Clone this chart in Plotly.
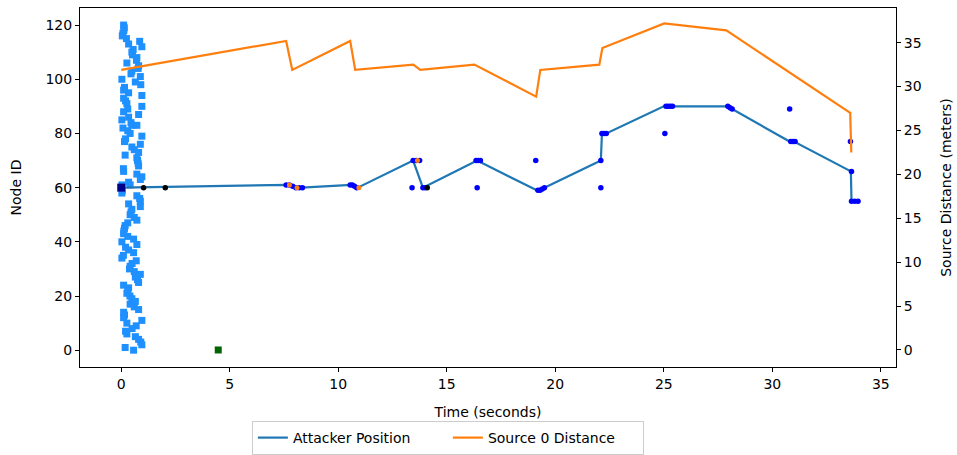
import plotly.graph_objects as go

# Node first-hearing times (seconds) by node ID
node_ids = [120, 119, 118, 117, 116, 115, 114, 113, 112, 111, 110, 109, 108, 107, 106, 105, 104, 103,
            102, 101, 100, 99, 98, 97, 96, 95, 94, 93, 92, 91, 90, 89, 88, 87, 86, 85, 84, 83, 83,
            82, 81, 80, 79, 78, 77, 76, 75, 74, 73, 72, 71, 70, 69, 68, 67, 66, 65, 64, 63, 62, 61,
            61, 59, 58, 57, 56, 55, 54, 53, 52, 51, 50, 49, 48, 47, 46, 45, 44, 43, 42, 41, 40, 39,
            38, 37, 36, 35, 34, 33, 32, 31, 30, 29, 28, 27, 26, 25, 24, 23, 22, 21, 20, 19, 18, 17,
            16, 15, 14, 13, 12, 11, 10, 9, 8, 7, 6, 5, 4, 3, 2, 1, 0]
node_times = [0.11, 0.14, 0.12, 0.08, 0.05, 0.24, 0.85, 0.34, 0.95, 0.55, 0.49, 0.52, 0.72, 0.7, 0.26, 0.8,
              0.78, 0.49, 0.45, 0.88, 0.03, 0.65, 0.9, 0.15, 0.11, 0.34, 0.95, 0.11, 0.2, 0.26, 0.95,
              0.3, 0.11, 0.8, 0.34, 0.03, 0.45, 0.49, 0.72, 0.08, 0.3, 0.41, 0.95, 0.2, 0.15, 0.88, 0.49,
              0.6, 0.8, 0.18, 0.72, 0.75, 0.78, 0.8, 0.1, 0.11, 0.72, 0.95, 0.88, 0.34, 0.41, 0.03, 0.05,
              0.03, 0.72, 0.85, 0.88, 0.34, 0.88, 0.49, 0.45, 0.41, 0.6, 0.72, 0.3, 0.18, 0.15, 0.12,
              0.11, 0.3, 0.57, 0.03, 0.72, 0.2, 0.34, 0.57, 0.1, 0.03, 0.69, 0.5, 0.41, 0.38, 0.6, 0.88,
              0.65, 0.75, 0.8, 0.11, 0.34, 0.3, 0.26, 0.4, 0.49, 0.65, 0.41, 0.6, 0.8, 0.11, 0.15, 0.11,
              0.95, 0.26, 0.69, 0.5, 0.2, 0.26, 0.65, 0.8, 0.9, 0.95, 0.18, 0.57]

# Attacker position (node ID) over time
att_t = [0.0, 7.65, 7.85, 8.3, 10.6, 10.9, 13.45, 13.9, 16.4, 19.15, 19.5, 22.1, 22.15, 22.35,
         25.0, 25.4, 27.95, 28.15, 30.8, 31.0, 33.62, 33.65, 34.0]
att_node = [60, 61, 60.5, 60, 61, 60, 70, 60, 70, 59, 60, 70, 80, 80,
            90, 90, 90, 89, 77, 77, 66, 55, 55]

# Distance between attacker and source 0 (meters)
dist_t = [0.0, 7.6, 7.88, 10.55, 10.78, 13.46, 13.78, 16.27, 19.12, 19.31, 22.03, 22.17,
          25.02, 27.88, 33.59, 33.64]
dist_m = [31.9, 35.2, 31.9, 35.2, 31.9, 32.5, 31.9, 32.5, 28.85, 31.9, 32.5, 34.4,
          37.2, 36.4, 27.0, 22.5]

# Messages received by the attacker
recv_t = [7.6, 7.75, 7.9, 8.05, 8.2, 8.35, 10.55, 10.65, 10.75, 10.85, 13.4, 13.45, 13.6, 13.75,
          13.9, 14.0, 16.35, 16.45, 16.55, 16.4, 19.1, 19.2, 19.3, 19.4, 19.5, 22.1, 22.1, 22.15,
          22.25, 22.35, 25.05, 25.1, 25.2, 25.3, 25.4, 27.95, 28.05, 28.15, 30.8, 30.85, 30.95,
          31.05, 33.6, 33.65, 33.65, 33.8, 33.95]
recv_node = [61, 61, 60.5, 60, 60, 60, 61, 61, 60.5, 60, 60, 70, 70, 70,
             60, 60, 70, 70, 70, 60, 70, 59, 59, 59.5, 60, 70, 60, 80,
             80, 80, 80, 90, 90, 90, 90, 90, 89.5, 89, 89, 77, 77,
             77, 77, 66, 55, 55, 55]

# Messages overheard from other sources
other_t = [1.03, 2.03, 14.1]
other_node = [60, 60, 60]

# Moves triggered by a fresh message
move_t = [7.75, 8.1, 10.95, 13.65]
move_node = [61, 60, 60, 70]

sink_t, sink_node = [0.0], [60]
source_t, source_dist = [4.47], [0]

fig = go.Figure()

fig.add_trace(go.Scatter(x=node_times, y=node_ids, mode="markers", showlegend=False,
                         marker=dict(symbol="square", size=7, color="#1e90ff")))
fig.add_trace(go.Scatter(x=dist_t, y=dist_m, mode="lines", name="Source 0 Distance",
                         yaxis="y2", line=dict(color="#ff7f0e", width=2.2)))
fig.add_trace(go.Scatter(x=att_t, y=att_node, mode="lines", name="Attacker Position",
                         line=dict(color="#1f77b4", width=2.2)))
fig.add_trace(go.Scatter(x=recv_t, y=recv_node, mode="markers", showlegend=False,
                         marker=dict(size=5.5, color="#0000ff")))
fig.add_trace(go.Scatter(x=other_t, y=other_node, mode="markers", showlegend=False,
                         marker=dict(size=5.5, color="black")))
fig.add_trace(go.Scatter(x=move_t, y=move_node, mode="markers", showlegend=False,
                         marker=dict(size=5, color="#ff7f0e")))
fig.add_trace(go.Scatter(x=sink_t, y=sink_node, mode="markers", showlegend=False,
                         marker=dict(symbol="square", size=8, color="#00008b")))
fig.add_trace(go.Scatter(x=source_t, y=source_dist, mode="markers", showlegend=False, yaxis="y2",
                         marker=dict(symbol="square", size=7, color="#006400")))

axis_font = dict(family="DejaVu Sans", size=14, color="black")
common = dict(showgrid=False, zeroline=False, showline=True, linecolor="black", linewidth=1,
              ticks="outside", ticklen=4, tickcolor="black", tickfont=axis_font, automargin=False)

fig.update_layout(
    width=957, height=455,
    margin=dict(l=80, r=61, t=8, b=88),
    plot_bgcolor="white", paper_bgcolor="white",
    font=axis_font,
    xaxis=dict(range=[-1.9, 35.7], tickvals=[0, 5, 10, 15, 20, 25, 30, 35], mirror=True,
               title=dict(text="Time (seconds)", font=axis_font, standoff=16), **common),
    yaxis=dict(range=[-6.2, 126.3], tickvals=[0, 20, 40, 60, 80, 100, 120],
               title=dict(text="Node ID", font=axis_font, standoff=20), **common),
    yaxis2=dict(range=[-1.94, 38.95], tickvals=[0, 5, 10, 15, 20, 25, 30, 35], overlaying="y",
                side="right", title=dict(text="Source Distance (meters)", font=axis_font, standoff=20),
                **common),
    legend=dict(orientation="h", x=0.468, xanchor="center", xref="container",
                y=0.0, yanchor="bottom", yref="container",
                bordercolor="#cccccc", borderwidth=1, font=dict(family="DejaVu Sans", size=14),
                traceorder="reversed", entrywidth=150, entrywidthmode="pixels", tracegroupgap=0),
)

fig.write_html("out.html")
